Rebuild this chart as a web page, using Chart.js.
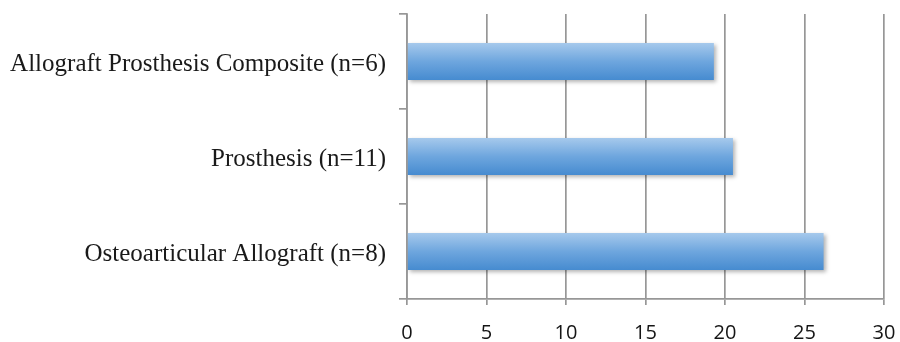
<!DOCTYPE html>
<html>
<head>
<meta charset="utf-8">
<script src="https://cdn.jsdelivr.net/npm/chart.js@4"></script>
<style>
  html, body { margin: 0; padding: 0; background: #ffffff; }
  #wrap { width: 900px; height: 342px; position: relative; }
</style>
</head>
<body>
<div id="wrap"><canvas id="chart" width="900" height="342"></canvas></div>
<script>
// Groups shown top to bottom, with their bar values
const categories = [
  'Allograft Prosthesis Composite (n=6)',
  'Prosthesis (n=11)',
  'Osteoarticular Allograft (n=8)'
];
const values = [19.3, 20.5, 26.2];
const xTicks = [0, 5, 10, 15, 20, 25, 30];

// Vertical blue gradient for each bar, built from the bar's own band on the y scale
function barGradient(context) {
  const chart = context.chart;
  const yScale = chart.scales.y;
  if (!yScale || context.dataIndex === undefined) return '#6ea6de';
  const center = yScale.getPixelForValue(context.dataIndex);
  const band = Math.abs(yScale.getPixelForValue(1) - yScale.getPixelForValue(0));
  if (!isFinite(center) || !isFinite(band) || band === 0) return '#6ea6de';
  const half = band * 0.39 / 2;
  const g = chart.ctx.createLinearGradient(0, center - half, 0, center + half);
  g.addColorStop(0, '#a6c9ec');
  g.addColorStop(0.5, '#6ea6de');
  g.addColorStop(1, '#468bd0');
  return g;
}

// Soft drop shadow under the bars
const barShadow = {
  id: 'barShadow',
  beforeDatasetsDraw(chart) {
    const ctx = chart.ctx;
    ctx.save();
    ctx.shadowColor = 'rgba(0,0,0,0.30)';
    ctx.shadowBlur = 4;
    ctx.shadowOffsetX = 2;
    ctx.shadowOffsetY = 2;
  },
  afterDatasetsDraw(chart) {
    chart.ctx.restore();
  }
};

new Chart(document.getElementById('chart'), {
  type: 'bar',
  data: {
    labels: categories,
    datasets: [{
      data: values,
      backgroundColor: barGradient,
      borderWidth: 0,
      categoryPercentage: 1,
      barPercentage: 0.39
    }]
  },
  options: {
    indexAxis: 'y',
    responsive: false,
    animation: false,
    devicePixelRatio: 1,
    layout: { padding: { left: 0, right: 16, top: 14, bottom: 0 } },
    plugins: {
      legend: { display: false },
      tooltip: { enabled: false }
    },
    scales: {
      x: {
        min: 0,
        max: 30,
        afterBuildTicks(scale) {
          scale.ticks = xTicks.map(v => ({ value: v }));
        },
        afterFit(scale) {
          scale.height = 43;
          scale.paddingLeft = 0;
          scale.paddingRight = 0;
        },
        grid: {
          color: '#979797',
          lineWidth: 1.7,
          tickLength: 6,
          drawTicks: true
        },
        border: { color: '#979797', width: 1.7 },
        ticks: {
          color: '#151515',
          padding: 16,
          font: { family: 'Open Sans', size: 20 }
        }
      },
      y: {
        afterFit(scale) {
          scale.width = 407;
          scale.paddingTop = 0;
          scale.paddingBottom = 0;
        },
        grid: {
          offset: true,
          drawOnChartArea: false,
          color: '#979797',
          lineWidth: 1.7,
          tickLength: 8
        },
        border: { color: '#979797', width: 1.7 },
        ticks: {
          color: '#1a1a1a',
          padding: 13,
          labelOffset: 3,
          font: { family: 'Liberation Serif', size: 25 }
        }
      }
    }
  },
  plugins: [barShadow]
});
</script>
</body>
</html>
